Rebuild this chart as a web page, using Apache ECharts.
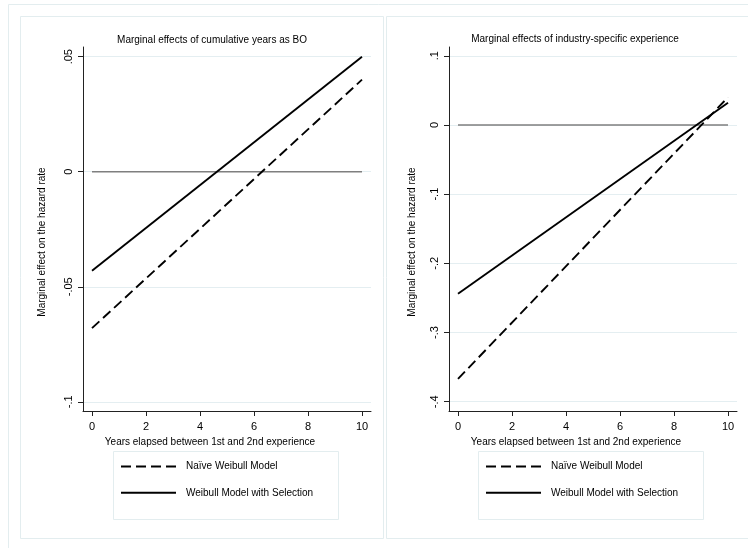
<!DOCTYPE html>
<html>
<head>
<meta charset="utf-8">
<script src="https://cdn.jsdelivr.net/npm/echarts@6/dist/echarts.min.js"></script>
<style>
html,body{margin:0;padding:0;background:#fff;}
#main{width:748px;height:548px;}
</style>
</head>
<body>
<div id="main"></div>
<script>
// ---- data ----
var years = [0, 10];
var zeroLine = [0, 0];
// Panel 1: cumulative years as BO
var naiveBO = [-0.068, 0.040];
var selBO = [-0.043, 0.050];
// Panel 2: industry-specific experience
var naiveInd = [-0.367, 0.040];
var selInd = [-0.244, 0.032];
// tick labels
var xTicks = [0, 2, 4, 6, 8, 10];
var yTicksBO = [-0.1, -0.05, 0, 0.05];
var yTicksInd = [-0.4, -0.3, -0.2, -0.1, 0, 0.1];
var titles = ['Marginal effects of cumulative years as BO', 'Marginal effects of industry-specific experience'];
var xTitle = 'Years elapsed between 1st and 2nd experience';
var yTitle = 'Marginal effect on the hazard rate';
var seriesNames = ['Naïve Weibull Model', 'Weibull Model with Selection'];

function pairs(xs, ys) { return xs.map(function (x, i) { return [x, ys[i]]; }); }
function fmtY(v) {
  if (Math.abs(v) < 1e-12) return '0';
  var s = String(Math.round(v * 1000) / 1000);
  return s.replace(/^(-?)0\./, '$1.');
}

var FONT = '"Liberation Sans", Arial, sans-serif';
var BORDER = '#e3edef';
var AXC = '#222';

function xAxisCfg(gi) {
  return {
    type: 'value', gridIndex: gi, min: -1 / 3, max: 31 / 3,
    name: xTitle, nameLocation: 'middle', nameGap: 22,
    nameTextStyle: { fontFamily: FONT, fontSize: 10, color: '#000', padding: [0, 34, 0, 0] },
    axisLine: { show: true, onZero: false, lineStyle: { color: AXC, width: 1 } },
    axisTick: { show: true, length: 5, customValues: xTicks, lineStyle: { color: AXC } },
    axisLabel: { customValues: xTicks, margin: 10, fontFamily: FONT, fontSize: 11, color: '#000' },
    splitLine: { show: false }
  };
}
function yAxisCfg(gi, min, max, ticks, nameGap) {
  return {
    type: 'value', gridIndex: gi, min: min, max: max,
    name: yTitle, nameLocation: 'middle', nameGap: nameGap,
    nameTextStyle: { fontFamily: FONT, fontSize: 10, color: '#000', padding: [0, 26, 0, 0] },
    axisLine: { show: true, onZero: false, lineStyle: { color: AXC, width: 1 } },
    axisTick: { show: true, length: 5, customValues: ticks, lineStyle: { color: AXC } },
    axisLabel: { customValues: ticks, rotate: 90, margin: 9, fontFamily: FONT, fontSize: 11, color: '#000', formatter: fmtY },
    splitLine: { show: true, lineStyle: { color: '#e4eef1', width: 1 } }
  };
}
function lineSeries(name, gi, ys, dashed) {
  return {
    type: 'line', name: name, xAxisIndex: gi, yAxisIndex: gi,
    data: pairs(years, ys), symbol: 'none', silent: true, z: 3,
    lineStyle: { color: '#000', width: 1.9, type: dashed ? [10, 5] : 'solid' },
    itemStyle: { color: '#000' }
  };
}
function zeroSeries(gi) {
  return {
    type: 'line', name: 'zero', xAxisIndex: gi, yAxisIndex: gi,
    data: pairs(years, zeroLine), symbol: 'none', silent: true, z: 2,
    lineStyle: { color: '#7f7f7f', width: 1.6 }
  };
}
function legendCfg(left) {
  return {
    data: seriesNames, orient: 'vertical', left: left, top: 461,
    itemWidth: 55, itemHeight: 14, itemGap: 15, padding: 0,
    selectedMode: false,
    itemStyle: { color: 'rgba(0,0,0,0)', borderWidth: 0, opacity: 0 },
    textStyle: { fontFamily: FONT, fontSize: 10, color: '#000', padding: [0, 0, 0, 5] }
  };
}
function rect(x, y, w, h) {
  return { type: 'rect', shape: { x: x + 0.5, y: y + 0.5, width: w, height: h }, style: { fill: 'none', stroke: BORDER, lineWidth: 1 }, silent: true, z: -10 };
}

var chart = echarts.init(document.getElementById('main'), null, { renderer: 'canvas' });
chart.setOption({
  backgroundColor: '#fff',
  animation: false,
  title: [
    { text: titles[0], left: 212, top: 35, textAlign: 'center', padding: 0, textStyle: { fontFamily: FONT, fontSize: 10, fontWeight: 'normal', color: '#000' } },
    { text: titles[1], left: 575, top: 34, textAlign: 'center', padding: 0, textStyle: { fontFamily: FONT, fontSize: 10, fontWeight: 'normal', color: '#000' } }
  ],
  graphic: [
    rect(8, 4, 800, 600),
    rect(20, 16, 363, 522),
    rect(386, 16, 420, 522),
    rect(113, 451, 225, 68),
    rect(478, 451, 225, 68)
  ],
  grid: [
    { left: 83, top: 47, width: 288, height: 364 },
    { left: 449, top: 47, width: 288, height: 364 }
  ],
  xAxis: [xAxisCfg(0), xAxisCfg(1)],
  yAxis: [
    yAxisCfg(0, -0.1040, 0.0542, yTicksBO, 36),
    yAxisCfg(1, -0.4134, 0.1127, yTicksInd, 32)
  ],
  legend: [legendCfg(120), legendCfg(485)],
  series: [
    zeroSeries(0),
    lineSeries(seriesNames[0], 0, naiveBO, true),
    lineSeries(seriesNames[1], 0, selBO, false),
    zeroSeries(1),
    lineSeries(seriesNames[0], 1, naiveInd, true),
    lineSeries(seriesNames[1], 1, selInd, false)
  ]
});
</script>
</body>
</html>
